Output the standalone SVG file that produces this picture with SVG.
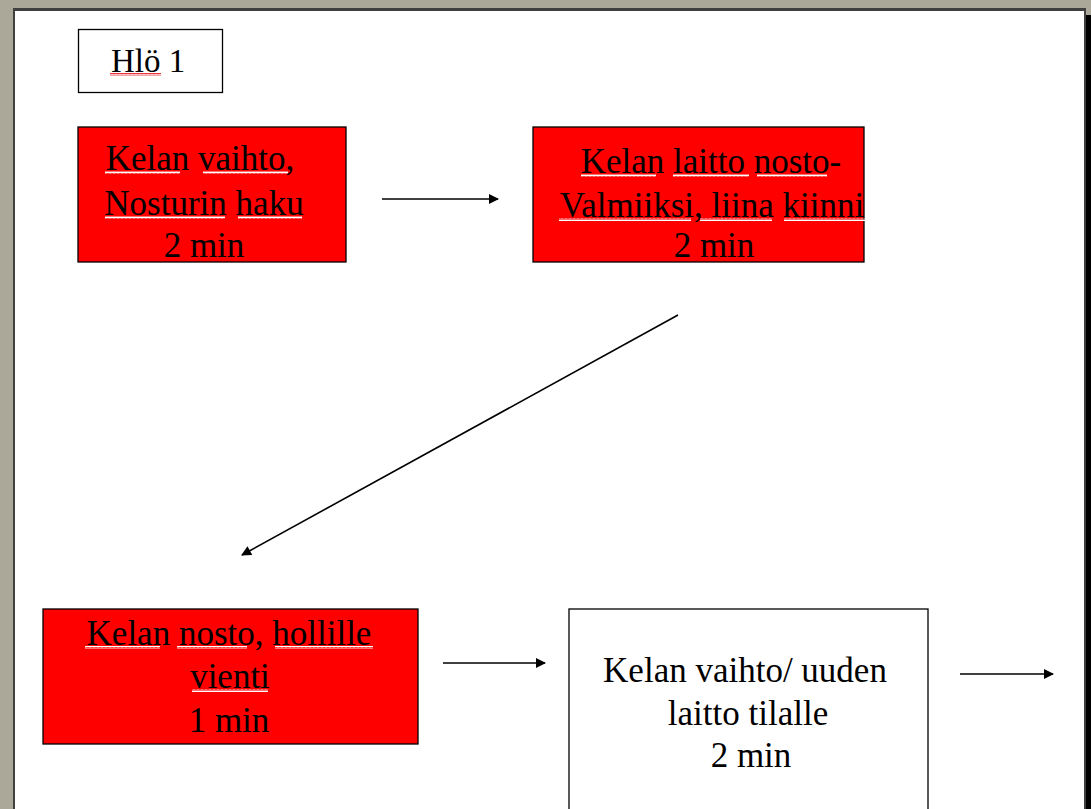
<svg xmlns="http://www.w3.org/2000/svg" width="1091" height="809" viewBox="0 0 1091 809">
  <style>
    .box { stroke: #000; stroke-width: 1.3; }
    .red { fill: #ff0000; }
    .white { fill: #fff; }
    .lbl { font-family: "Liberation Serif", "Times New Roman", serif; font-size: 35px; fill: #000; text-anchor: middle; }
    .conn { stroke: #000; stroke-width: 1.6; fill: none; marker-end: url(#head); }
  </style>
  <defs>
    <marker id="head" viewBox="0 0 10 10" refX="9" refY="5" markerWidth="11" markerHeight="10" markerUnits="userSpaceOnUse" orient="auto">
      <path d="M0,0 L10,5 L0,10 z" fill="#000"/>
    </marker>
    <pattern id="wave" width="4" height="3" patternUnits="userSpaceOnUse">
      <path d="M0,2.5 L1,0.5 L2,2.5 L3,0.5 L4,2.5" fill="none" stroke="#e8202a" stroke-width="0.9"/>
    </pattern>
    <pattern id="waveW" width="4" height="3" patternUnits="userSpaceOnUse">
      <path d="M0,2.5 L1,0.5 L2,2.5 L3,0.5 L4,2.5" fill="none" stroke="#ffffff" stroke-width="1"/>
    </pattern>
  </defs>

  <!-- window frame and page -->
  <rect x="0" y="0" width="1091" height="809" fill="#aca899"/>
  <rect x="13" y="8" width="1073" height="801" fill="#404040"/>
  <rect x="1086" y="15" width="5" height="794" fill="#000"/>
  <rect x="15" y="11" width="1069" height="798" fill="#fff"/>

  <!-- header label -->
  <g id="hlo1">
    <rect class="box white" x="78.5" y="29.5" width="144" height="63"/>
    <text class="lbl" x="148" y="72" style="font-size:33px">Hlö 1</text>
    <rect x="110" y="73" width="51" height="3" fill="url(#wave)"/>
  </g>

  <!-- step 1 -->
  <g id="step1">
    <rect class="box red" x="78" y="127" width="268" height="135"/>
    <text class="lbl" x="200" y="170">Kelan vaihto,</text>
    <text class="lbl" x="204" y="215">Nosturin haku</text>
    <text class="lbl" x="204" y="257">2 min</text>
    <rect x="105" y="171" width="75" height="3" fill="url(#waveW)"/>
    <rect x="203" y="171" width="85" height="3" fill="url(#waveW)"/>
    <rect x="105" y="216" width="120" height="3" fill="url(#waveW)"/>
    <rect x="238" y="216" width="64" height="3" fill="url(#waveW)"/>
  </g>

  <!-- step 2 -->
  <g id="step2">
    <rect class="box red" x="533" y="127" width="331" height="135"/>
    <text class="lbl" x="711" y="173">Kelan laitto nosto-</text>
    <text class="lbl" x="712" y="217">Valmiiksi, liina kiinni</text>
    <text class="lbl" x="714" y="257">2 min</text>
    <rect x="581" y="174" width="75" height="3" fill="url(#waveW)"/>
    <rect x="673" y="174" width="76" height="3" fill="url(#waveW)"/>
    <rect x="757" y="174" width="70" height="3" fill="url(#waveW)"/>
    <rect x="559" y="218" width="132" height="3" fill="url(#waveW)"/>
    <rect x="700" y="218" width="72" height="3" fill="url(#waveW)"/>
    <rect x="784" y="218" width="82" height="3" fill="url(#waveW)"/>
  </g>

  <!-- step 3 -->
  <g id="step3">
    <rect class="box red" x="43" y="609" width="375" height="135"/>
    <text class="lbl" x="229" y="645">Kelan nosto, hollille</text>
    <text class="lbl" x="230" y="688">vienti</text>
    <text class="lbl" x="229" y="732">1 min</text>
    <rect x="85" y="646" width="75" height="3" fill="url(#waveW)"/>
    <rect x="177" y="646" width="70" height="3" fill="url(#waveW)"/>
    <rect x="275" y="646" width="98" height="3" fill="url(#waveW)"/>
    <rect x="192" y="689" width="76" height="3" fill="url(#waveW)"/>
  </g>

  <!-- step 4 -->
  <g id="step4">
    <rect class="box white" x="569" y="609" width="359" height="210"/>
    <text class="lbl" x="745" y="682">Kelan vaihto/ uuden</text>
    <text class="lbl" x="748" y="725">laitto tilalle</text>
    <text class="lbl" x="751" y="767">2 min</text>
  </g>

  <!-- connectors -->
  <g id="connectors">
    <line class="conn" x1="382" y1="199" x2="498" y2="199"/>
    <line class="conn" x1="678" y1="315" x2="242" y2="555"/>
    <line class="conn" x1="443" y1="663" x2="545" y2="663"/>
    <line class="conn" x1="960" y1="674" x2="1053" y2="674"/>
  </g>
</svg>
